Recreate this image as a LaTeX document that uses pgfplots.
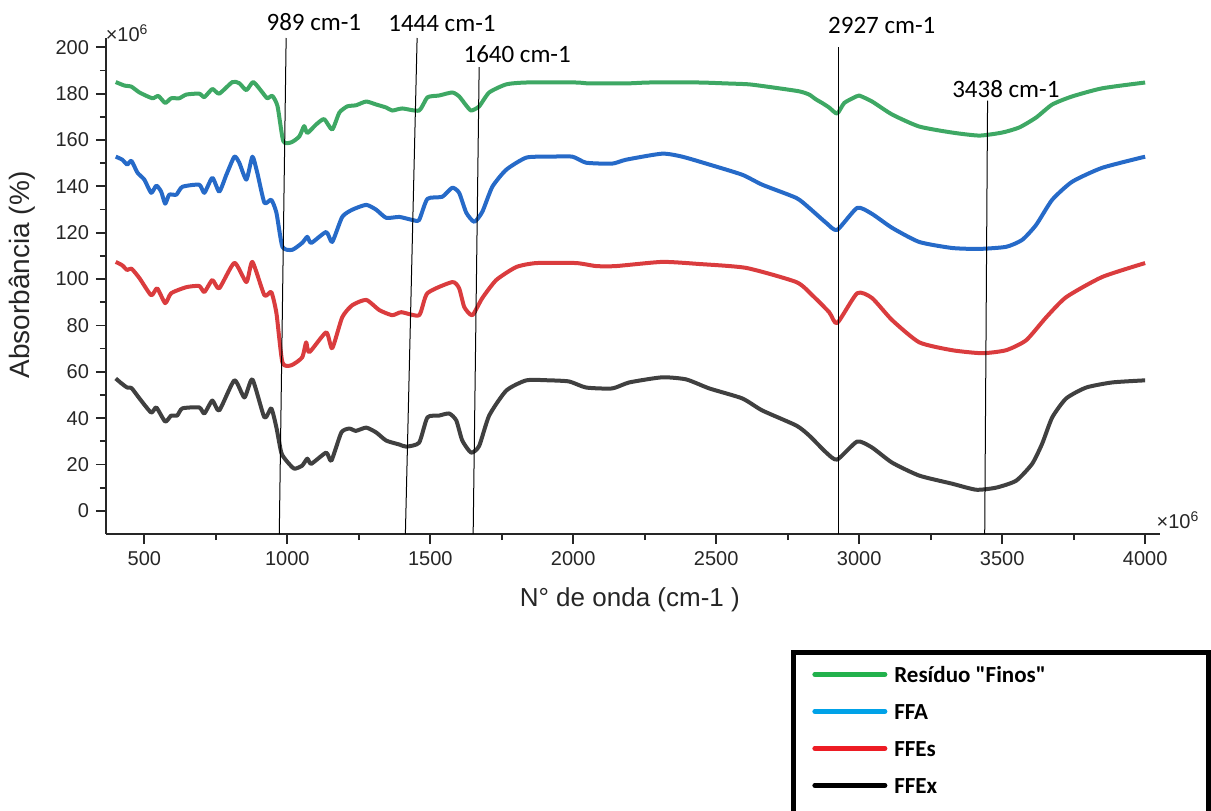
\documentclass[border=0pt]{standalone}
\usepackage{pgfplots}
\pgfplotsset{compat=1.18}
\usepackage{fontspec}
\setmainfont{Liberation Sans}
\newfontfamily\calibri{Carlito}

\definecolor{cgreen}{RGB}{62,168,100}
\definecolor{cblue}{RGB}{38,106,200}
\definecolor{cred}{RGB}{218,60,62}
\definecolor{cblack}{RGB}{64,64,64}
\definecolor{lgreen}{RGB}{34,177,76}
\definecolor{lblue}{RGB}{0,162,232}
\definecolor{lred}{RGB}{237,28,36}

% FTIR spectra (wavenumber, absorbance x10^6)
\pgfplotstableread{
x y
400 185
430 183.5
455 183
483 180.5
528 178
549 179
573 176
594 178
622 178
647 179.6
692 180
710 178.5
738 182
762 180
808 185
832 184.5
857 181.5
881 185
913 180.5
930 178
948 179
966 174.5
986 159.5
1014 159
1042 161.5
1059 166
1070 163
1101 166.7
1129 169
1157 164.5
1182 171.8
1210 174.5
1241 175
1276 176.6
1311 175.3
1346 174
1367 172.7
1402 173.6
1461 172.7
1490 178.4
1531 179.2
1577 180.5
1601 178.8
1625 175
1643 172.7
1671 174.5
1706 180.5
1766 184
1836 184.8
2010 184.8
2056 184.4
2185 184.4
2266 184.8
2440 184.8
2535 184.4
2615 184
2696 182.7
2790 181
2825 179.6
2849 177.5
2870 176
2895 174
2923 171.4
2948 176
2990 178.8
3000 179.2
3045 176.6
3115 171
3210 165.8
3325 163.2
3420 161.9
3500 163.2
3560 165.4
3619 169.7
3675 175.3
3745 178.8
3850 182.3
4000 184.8
}\finos

\pgfplotstableread{
x y
400 152.8
423 151.5
440 149.4
455 151
476 145.9
500 142.9
524 137.2
542 140.3
559 137.7
573 132.5
587 136.4
612 136.4
633 139.8
692 140.7
710 137.2
738 143.7
762 137.7
787 145
815 152.8
832 150.2
857 142.9
878 152.8
895 145.9
920 132.9
944 134.2
962 128.6
983 113.9
1017 112.6
1052 115.6
1070 118.2
1084 115.6
1136 120.3
1157 116
1192 126.8
1227 129.9
1276 132
1311 129.9
1346 126.4
1392 126.8
1437 125.5
1461 125.5
1490 134.6
1542 135.5
1577 139.4
1601 137.2
1626 128.6
1654 124.7
1682 129
1717 139.8
1766 147.2
1836 152.4
1916 152.8
1997 152.8
2045 150.2
2136 149.8
2185 151.5
2311 154.1
2381 152.8
2476 149.4
2591 145
2661 140.7
2780 135
2825 130.7
2885 124.2
2923 121.2
2993 130.7
3045 128.1
3115 122.1
3210 116
3325 113.4
3420 113
3514 113.9
3570 116.9
3619 123.4
3675 134.2
3745 142
3850 148
4000 152.8
}\ffa

\pgfplotstableread{
x y
400 107.4
422 106
440 103.9
455 104.5
483 100.4
524 93
545 96
573 89.6
594 93.9
647 96.5
692 97
710 94.4
738 99.6
762 96
815 107
857 98.7
878 107.4
920 93
944 94.4
962 85.3
983 64
1014 62.8
1052 66.2
1066 72.7
1077 68.4
1136 77
1157 70.1
1192 83.5
1227 88.7
1276 91
1322 86.6
1367 84.4
1399 85.7
1461 84.4
1490 93.9
1577 98.7
1601 96
1619 87.9
1647 84.4
1682 91.8
1731 99.6
1801 105.2
1871 106.9
2010 106.9
2080 105.6
2150 105.6
2311 107.4
2440 106.5
2605 104.8
2780 98.7
2836 93
2895 85.7
2923 81
2993 93.9
3045 91.8
3115 82.3
3210 72.7
3325 69.3
3430 68
3514 69.3
3584 73.6
3654 83.5
3724 92.2
3850 100.9
4000 106.9
}\ffes

\pgfplotstableread{
x y
400 57.1
420 55
440 53.2
455 53
483 48.5
524 42.4
542 44.6
573 38.5
594 41.1
615 41.1
633 44.2
692 44.6
710 42
738 47.6
762 43.3
815 56.3
850 48.9
878 56.7
920 40.3
944 44.2
962 35.9
979 25.1
997 21.6
1024 18.2
1052 19.5
1070 22.5
1084 20.3
1136 25.1
1154 21.6
1189 33.8
1217 35.5
1240 34.5
1276 35.9
1311 33.8
1346 30.3
1392 28.6
1416 27.7
1461 29.4
1490 40.3
1531 41.1
1566 42
1591 39
1612 30.3
1643 25.1
1671 28
1706 41.1
1766 51.9
1836 56.3
1916 56.3
1986 55.8
2045 53.2
2136 52.8
2196 55.4
2311 57.6
2395 56.7
2476 52.8
2591 48.5
2661 43.3
2780 36.8
2825 32.5
2885 25.1
2923 22.1
2993 29.9
3045 27.3
3115 20.8
3210 15.2
3325 11.7
3409 9.1
3479 10
3549 13
3605 20.3
3640 29
3675 40.3
3724 48.5
3794 53.2
3885 55.4
4000 56.3
}\ffex

\begin{document}
\begin{tikzpicture}
\useasboundingbox (0,0) rectangle (605.5pt,405pt);
\begin{axis}[
    at={(53pt,138pt)}, anchor=south west,
    scale only axis, width=527pt, height=248pt,
    xmin=366, xmax=4052, ymin=-10, ymax=204,
    axis x line*=bottom, axis y line*=left,
    axis line style={black!85, line width=0.9pt, -},
    xtick={500,1000,...,4000}, ytick={0,20,...,200},
    minor x tick num=1, minor y tick num=1,
    tick align=outside,
    major tick length=5pt, minor tick length=3pt,
    every tick/.style={black!85, line width=0.9pt},
    ticklabel style={font=\fontsize{10}{12}\selectfont, text=black!85},
    /pgf/number format/assume math mode=true,
    /pgf/number format/1000 sep={},
    scaled ticks=false,
    xlabel={N° de onda (cm-1 )},
    ylabel={Absorbância (\%)},
    xlabel style={font=\fontsize{13}{15}\selectfont, text=black!85,
        at={(axis description cs:0.497,-0.133)}, anchor=center},
    ylabel style={font=\fontsize{14}{16}\selectfont, text=black!85,
        at={(axis description cs:-0.0797,0.522)}, anchor=center},
    clip=false,
    every axis plot/.append style={line width=2pt, line join=round},
    legend image code/.code={\draw[#1, line cap=round] (0pt,0pt) -- (35pt,0pt);},
    legend cell align=left,
    legend style={at={(axis description cs:0.6698,-0.2661)}, anchor=north west,
        draw=none, fill=none, inner sep=0pt, row sep=10.5pt, column sep=3.5pt,
        font=\calibri\bfseries\fontsize{11.5}{13}\selectfont,
        nodes={inner sep=0pt, text height=8pt, text depth=0pt}},
]
\addplot[cgreen, smooth, tension=0.35, forget plot] table {\finos};
\addplot[cblue, smooth, tension=0.35, forget plot] table {\ffa};
\addplot[cred, smooth, tension=0.35, forget plot] table {\ffes};
\addplot[cblack, smooth, tension=0.35, forget plot] table {\ffex};

\addlegendimage{lgreen, line width=2.5pt}
\addlegendentry{Resíduo "Finos"}
\addlegendimage{lblue, line width=2.5pt}
\addlegendentry{FFA}
\addlegendimage{lred, line width=2.5pt}
\addlegendentry{FFEs}
\addlegendimage{black, line width=2.5pt}
\addlegendentry{FFEx}

% band markers
\draw[black, line width=0.5pt] (axis cs:996,204) -- (axis cs:972,-10);
\draw[black, line width=0.5pt] (axis cs:1454,204) -- (axis cs:1413,-10);
\draw[black, line width=0.5pt] (axis cs:1671,191.4) -- (axis cs:1650,-10);
\draw[black, line width=0.5pt] (axis cs:2927,200) -- (axis cs:2927,-10);
\draw[black, line width=0.5pt] (axis cs:3449,177) -- (axis cs:3439,-10);
\begin{scope}[every node/.style={font=\calibri\fontsize{12.5}{14}\selectfont}]
\node at (axis cs:1093,210.9) {989 cm-1};
\node at (axis cs:1541,210.4) {1444 cm-1};
\node at (axis cs:1804,197) {1640 cm-1};
\node at (axis cs:3079,209.2) {2927 cm-1};
\node at (axis cs:3513,181.9) {3438 cm-1};
\end{scope}
\node[font=\fontsize{10}{12}\selectfont, text=black!85] at (axis cs:440,206) {×10\textsuperscript{6}};
\node[font=\fontsize{10}{12}\selectfont, text=black!85] at (axis cs:4115,-3.9) {×10\textsuperscript{6}};
\end{axis}
\draw[black, line width=2.5pt] (396.5pt,-5pt) -- (396.5pt,79pt) -- (604pt,79pt) -- (604pt,-5pt);
\end{tikzpicture}
\end{document}
